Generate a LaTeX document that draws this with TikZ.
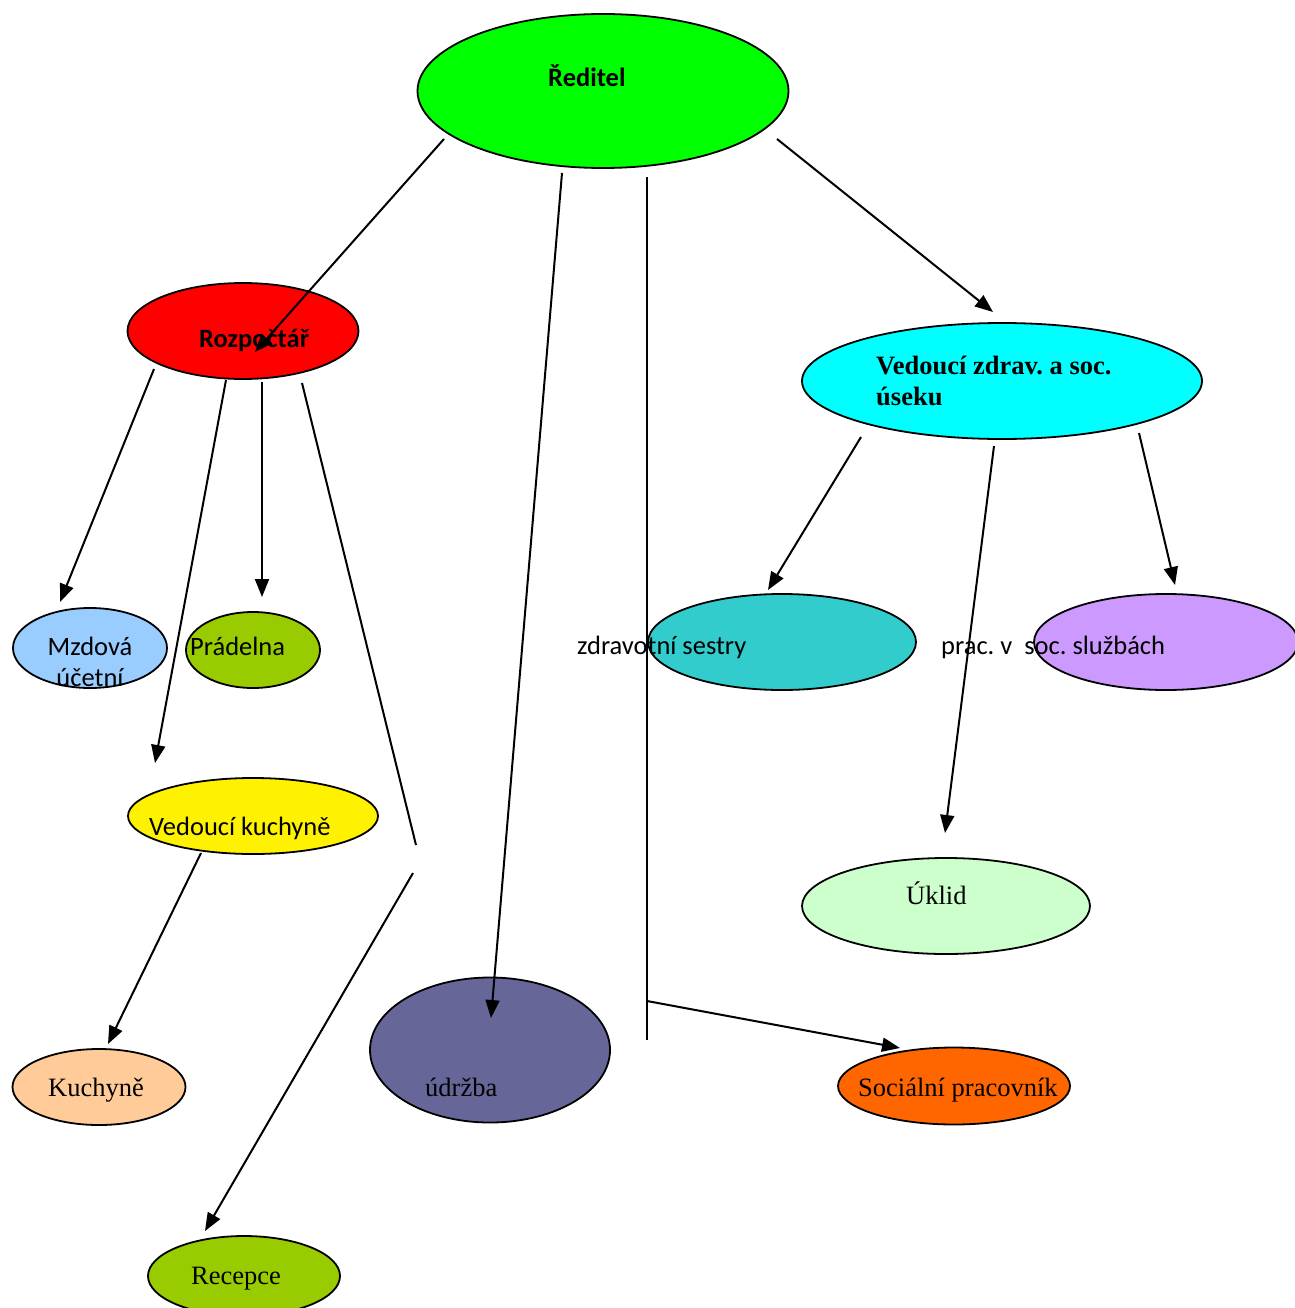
\documentclass[tikz,border=0pt]{standalone}
\usepackage{fontspec}
\setmainfont{Liberation Serif}
\newfontfamily\calibri{Carlito}
\usetikzlibrary{shapes.geometric,arrows.meta}
\frenchspacing
\definecolor{reditelgreen}{HTML}{00FF00}
\definecolor{zdravcyan}{HTML}{00FFFF}
\definecolor{mzdablue}{HTML}{99CCFF}
\definecolor{olive}{HTML}{99CC00}
\definecolor{sestryteal}{HTML}{33CCCC}
\definecolor{lilac}{HTML}{CC99FF}
\definecolor{mint}{HTML}{CCFFCC}
\definecolor{slate}{HTML}{666699}
\definecolor{oranzova}{HTML}{FF6600}
\definecolor{peach}{HTML}{FFCC99}

\begin{document}
\begin{tikzpicture}[x=1pt,y=-1pt,
    oval/.style={ellipse,draw,line width=1.8pt,inner sep=0pt},
    serif/.style={anchor=base west,inner sep=0pt,font=\fontsize{26.5}{31}\selectfont},
    sans/.style={anchor=base west,inner sep=0pt,font={\calibri\fontsize{26.5}{31}\selectfont}},
    link/.style={line width=2pt},
    arr/.style={link,-{Triangle[length=18pt,width=14pt]}}]
        \useasboundingbox (0,0) rectangle (1294,1308);

          \node [oval,fill=reditelgreen,minimum width=371,minimum height=154] (reditel) at (603,91) {};
          \node [oval,fill=red,minimum width=231,minimum height=96] (rozpoctar) at (243,331) {};
          \node [oval,fill=zdravcyan,minimum width=400,minimum height=116] (vedzdrav) at (1002,381) {};
          \node [oval,fill=mzdablue,minimum width=154,minimum height=80] (mzdova) at (90,648) {};
          \node [oval,fill=olive,minimum width=134,minimum height=76] (pradelna) at (253,650) {};
          \node [oval,fill=yellow,minimum width=250,minimum height=76] (vedkuch) at (253,816) {};
          \node [oval,fill=sestryteal,minimum width=268,minimum height=96] (sestry) at (782,642) {};
          \node [oval,fill=lilac,minimum width=264,minimum height=96] (socsluzby) at (1166,642) {};
          \node [oval,fill=mint,minimum width=288,minimum height=96] (uklid) at (946,906) {};
          \node [oval,fill=slate,minimum width=240,minimum height=145] (udrzba) at (490,1050) {};
          \node [oval,fill=oranzova,minimum width=232,minimum height=77] (socprac) at (954,1086) {};
          \node [oval,fill=peach,minimum width=173,minimum height=76] (kuchyne) at (99,1087) {};
          \node [oval,fill=olive,minimum width=192,minimum height=80] (recepce) at (244,1276) {};

          \node [sans,font={\calibri\bfseries\fontsize{26.5}{31}\selectfont}] (reditel-t) at (548,87) {Ředitel};
          \node [sans,font={\calibri\bfseries\fontsize{26.5}{31}\selectfont}] (rozpoctar-t) at (199,347) {Rozpočtář};
          \node [serif,font=\bfseries\fontsize{26.5}{31}\selectfont,align=left] (vedzdrav-t) at (876,405) {Vedoucí zdrav. a soc.\\úseku};
          \node [sans,align=center,anchor=base] (mzdova-t) at (90,686) {Mzdová\\účetní};
          \node [sans] (pradelna-t) at (190,655) {Prádelna};
          \node [sans] (vedkuch-t) at (149,835) {Vedoucí kuchyně};
          \node [sans] (sestry-t) at (577,654) {zdravotní sestry};
          \node [sans] (socsluzby-t) at (941,654) {prac. v\ \ soc. službách};
          \node [serif] (uklid-t) at (906,904) {Úklid};
          \node [serif] (udrzba-t) at (425,1096) {údržba};
          \node [serif] (socprac-t) at (858,1096) {Sociální pracovník};
          \node [serif] (kuchyne-t) at (48,1096) {Kuchyně};
          \node [serif] (recepce-t) at (191,1284) {Recepce};

          \coordinate (r1) at (444,139);
          \coordinate (r2) at (562,173);
          \coordinate (r3) at (647,177);
          \coordinate (r4) at (777,139);
          \coordinate (p1) at (255,352);
          \coordinate (u1) at (491,1018);
          \coordinate (v1) at (647,1040);
          \coordinate (v2) at (647,1001);
          \coordinate (s1) at (900,1048);
          \coordinate (z1) at (993,312);
          \coordinate (a1) at (154,369);
          \coordinate (a2) at (226,380);
          \coordinate (a3) at (262,382);
          \coordinate (a4) at (302,383);
          \coordinate (m1) at (60,602);
          \coordinate (k1) at (155,763);
          \coordinate (d1) at (262,597);
          \coordinate (b1) at (416,845);
          \coordinate (b2) at (413,873);
          \coordinate (c1) at (205,1231);
          \coordinate (k2) at (201,853);
          \coordinate (k3) at (108,1044);
          \coordinate (h1) at (861,437);
          \coordinate (h2) at (994,446);
          \coordinate (h3) at (1139,433);
          \coordinate (e1) at (768,590);
          \coordinate (e2) at (945,833);
          \coordinate (e3) at (1175,585);

          \draw [arr] (r1) -- (p1);
          \draw [arr] (r2) -- (u1);
          \draw [link] (r3) -- (v1);
          \draw [arr] (v2) -- (s1);
          \draw [arr] (r4) -- (z1);
          \draw [arr] (a1) -- (m1);
          \draw [arr] (a2) -- (k1);
          \draw [arr] (a3) -- (d1);
          \draw [link] (a4) -- (b1);
          \draw [arr] (b2) -- (c1);
          \draw [arr] (k2) -- (k3);
          \draw [arr] (h1) -- (e1);
          \draw [arr] (h2) -- (e2);
          \draw [arr] (h3) -- (e3);
      \end{tikzpicture}
\end{document}
